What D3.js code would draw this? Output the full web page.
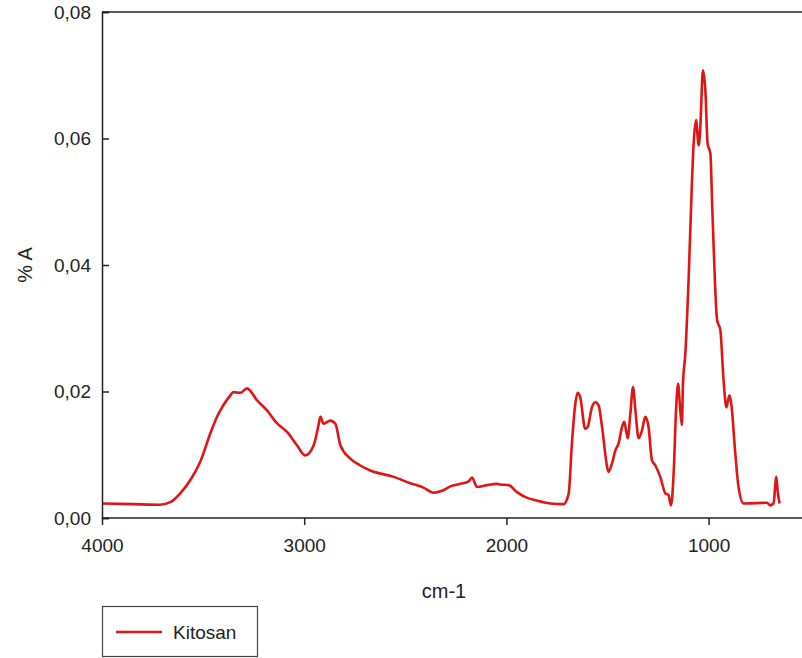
<!DOCTYPE html>
<html>
<head>
<meta charset="utf-8">
<script src="https://cdn.jsdelivr.net/npm/d3@7"></script>
<style>
  body { margin: 0; background: #fff; }
  text { font-family: "Liberation Sans", Arial, sans-serif; fill: #222; }
</style>
</head>
<body>
<div id="chart"></div>
<script>
// spectrum: wavenumber (cm-1) and absorbance
var wavenumber = [4000, 3850, 3712, 3662, 3613, 3563, 3514, 3464, 3431, 3365, 3351, 3316, 3283,
    3233, 3184, 3135, 3085, 3036, 2995, 2953, 2929, 2920, 2904, 2871, 2846, 2821, 2772, 2723,
    2673, 2558, 2475, 2410, 2360, 2318, 2277, 2228, 2187, 2170, 2145, 2096, 2047, 2030, 1989,
    1948, 1890, 1867, 1783, 1717, 1692, 1676, 1659, 1648, 1635, 1610, 1598, 1577, 1560, 1544,
    1527, 1502, 1495, 1478, 1461, 1445, 1428, 1417, 1400, 1387, 1374, 1362, 1346, 1329, 1313,
    1297, 1280, 1263, 1239, 1214, 1198, 1186, 1173, 1161, 1151, 1140, 1132, 1127, 1115, 1099,
    1082, 1074, 1062, 1049, 1041, 1028, 1016, 1005, 991, 983, 975, 958, 942, 926, 912, 897,
    888, 868, 852, 827, 711, 695, 679, 665, 659, 649];
var absorbance = [0.0023, 0.0022, 0.0021, 0.0025, 0.0039, 0.0060, 0.0089, 0.0134, 0.0160, 0.0194,
    0.0199, 0.0198, 0.0205, 0.0186, 0.0170, 0.0150, 0.0136, 0.0115, 0.0099, 0.0115, 0.0147,
    0.0160, 0.0149, 0.0154, 0.0149, 0.0115, 0.0094, 0.0083, 0.0075, 0.0065, 0.0055, 0.0048,
    0.0040, 0.0043, 0.0050, 0.0054, 0.0058, 0.0064, 0.0049, 0.0052, 0.0054, 0.0053, 0.0052,
    0.0041, 0.0031, 0.0029, 0.0023, 0.0022, 0.0039, 0.0118, 0.0181, 0.0198, 0.0191, 0.0141,
    0.0144, 0.0175, 0.0183, 0.0178, 0.0144, 0.0081, 0.0073, 0.0086, 0.0107, 0.0118, 0.0144,
    0.0152, 0.0126, 0.0165, 0.0207, 0.0170, 0.0126, 0.0139, 0.0160, 0.0144, 0.0091, 0.0083,
    0.0065, 0.0039, 0.0036, 0.0020, 0.0070, 0.0170, 0.0212, 0.0170, 0.0147, 0.0210, 0.0260,
    0.0376, 0.0534, 0.0592, 0.0629, 0.0589, 0.0618, 0.0708, 0.0676, 0.0592, 0.0576, 0.0502,
    0.0428, 0.0313, 0.0297, 0.0218, 0.0175, 0.0194, 0.0181, 0.0102, 0.0049, 0.0023, 0.0024,
    0.0020, 0.0023, 0.0065, 0.0044, 0.0023];

var xTicks = [4000, 3000, 2000, 1000];
var yTicks = [0, 0.02, 0.04, 0.06, 0.08];
var seriesName = "Kitosan";

var W = 802, H = 658;
var plotLeft = 102, plotTop = 12, plotBottom = 518;

var x = d3.scaleLinear().domain([4000, 400]).range([plotLeft, plotLeft + 3600 * 0.2022]);
var y = d3.scaleLinear().domain([0, 0.08]).range([plotBottom, plotTop]);

var svg = d3.select("#chart").append("svg")
    .attr("width", W)
    .attr("height", H);

svg.append("rect").attr("width", W).attr("height", H).attr("fill", "#fff");

var data = wavenumber.map(function(w, i) { return {w: w, a: absorbance[i]}; });

var line = d3.line()
    .x(function(d) { return x(d.w); })
    .y(function(d) { return y(d.a); })
    .curve(d3.curveMonotoneX);

svg.append("path")
    .datum(data)
    .attr("fill", "none")
    .attr("stroke", "#e01515")
    .attr("stroke-width", 2.6)
    .attr("stroke-linejoin", "round")
    .attr("d", line);

// top frame line
svg.append("line")
    .attr("x1", plotLeft).attr("x2", W)
    .attr("y1", plotTop).attr("y2", plotTop)
    .attr("stroke", "#222").attr("stroke-width", 1.5);

var fmt = function(v) { return d3.format(".2f")(v).replace(".", ","); };

var yAxis = svg.append("g")
    .attr("transform", "translate(" + plotLeft + ",0)")
    .call(d3.axisLeft(y).tickValues(yTicks).tickSize(-7).tickPadding(11).tickFormat(fmt));

var xAxis = svg.append("g")
    .attr("transform", "translate(0," + plotBottom + ")")
    .call(d3.axisBottom(x).tickValues(xTicks).tickSize(7).tickPadding(14).tickFormat(d3.format("d")));

[yAxis, xAxis].forEach(function(g) {
    g.selectAll("path, line").attr("stroke", "#222").attr("stroke-width", 1.5);
    g.selectAll("text").attr("fill", "#222").style("font-size", "19px")
        .style("font-family", "'Liberation Sans', Arial, sans-serif");
});
xAxis.select(".domain").attr("d", "M" + plotLeft + ",0H" + W);

svg.append("text")
    .attr("x", 444).attr("y", 598)
    .attr("text-anchor", "middle")
    .style("font-size", "20px")
    .text("cm-1");

svg.append("text")
    .attr("transform", "translate(32,265) rotate(-90)")
    .attr("text-anchor", "middle")
    .style("font-size", "20px")
    .text("% A");

// legend
var lg = svg.append("g");
lg.append("rect")
    .attr("x", 102.5).attr("y", 606.5)
    .attr("width", 155).attr("height", 50)
    .attr("fill", "none").attr("stroke", "#444").attr("stroke-width", 1.2);
lg.append("line")
    .attr("x1", 116).attr("x2", 162)
    .attr("y1", 632).attr("y2", 632)
    .attr("stroke", "#e01515").attr("stroke-width", 2.6);
lg.append("text")
    .attr("x", 173).attr("y", 639)
    .style("font-size", "19px")
    .text(seriesName);
</script>
</body>
</html>
